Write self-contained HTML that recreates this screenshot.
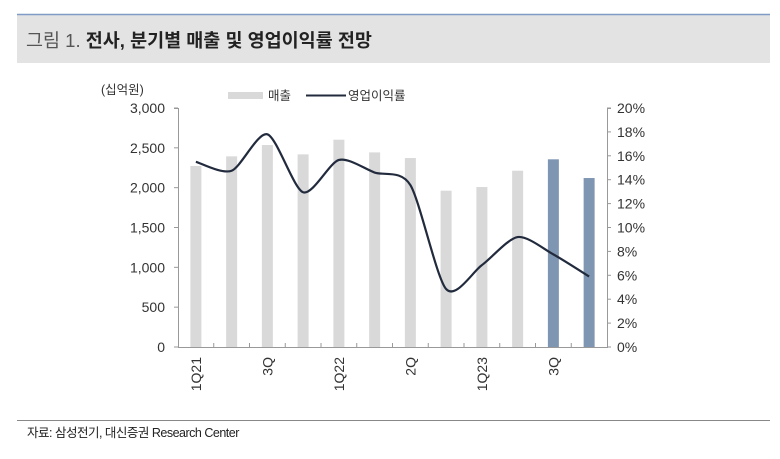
<!DOCTYPE html>
<html><head><meta charset="utf-8"><style>
body{margin:0;width:780px;height:454px;background:#fff;overflow:hidden;font-family:"Liberation Sans","Noto Sans CJK KR",sans-serif}
</style></head><body>
<svg width="780" height="454" xmlns="http://www.w3.org/2000/svg" font-family="Liberation Sans, Noto Sans CJK KR, sans-serif">
<rect x="17" y="14" width="753" height="49" fill="#e3e3e3"/>
<line x1="17" y1="14.5" x2="770" y2="14.5" stroke="#7e9cc5" stroke-width="1.5"/>
<text x="26" y="47" font-size="18.5" fill="#555">그림 1.  <tspan font-weight="bold" fill="#222">전사, 분기별 매출 및 영업이익률 전망</tspan></text>
<text x="101" y="94" font-size="12.5" fill="#333">(십억원)</text>
<rect x="228" y="92" width="35" height="7" fill="#d9d9d9"/>
<text x="268" y="100" font-size="12.5" fill="#333">매출</text>
<line x1="306" y1="95.5" x2="346" y2="95.5" stroke="#222b3d" stroke-width="2"/>
<text x="348" y="100" font-size="12.5" fill="#333">영업이익률</text>
<g id="plot"></g>
<line x1="17" y1="420.5" x2="770" y2="420.5" stroke="#888" stroke-width="1"/>
<text x="27" y="437" font-size="12.5" fill="#222" letter-spacing="-0.5">자료: 삼성전기, 대신증권 Research Center</text>
</svg>
<script>
const categories=["1Q21","2Q","3Q","4Q","1Q22","2Q","3Q","4Q","1Q23","2Q","3Q","4Q"];
const xLabels=["1Q21","","3Q","","1Q22","","2Q","","1Q23","","3Q",""];
const sales=[2272,2393,2535,2418,2602,2443,2372,1962,2008,2213,2356,2121];
const margin=[15.5,14.75,17.8,12.95,15.65,14.6,13.55,4.85,6.85,9.2,7.75,5.9];
const forecast=[false,false,false,false,false,false,false,false,false,false,true,true];
const leftTicks=[0,500,1000,1500,2000,2500,3000];
const rightTicks=[0,2,4,6,8,10,12,14,16,18,20];

const NS="http://www.w3.org/2000/svg";
const g=document.getElementById('plot');
const X0=178,X1=607,Y0=347,Y1=108;
const bw=(X1-X0)/categories.length;
const xc=i=>X0+bw*(i+0.5);
const yL=v=>Y0-(v/3000)*(Y0-Y1);
const yR=v=>Y0-(v/20)*(Y0-Y1);
function mk(t,a){const e=document.createElementNS(NS,t);for(const k in a)e.setAttribute(k,a[k]);g.appendChild(e);return e;}
const fmt=v=>v.toLocaleString('en-US');
sales.forEach((v,i)=>{
 const r=mk('rect',{x:xc(i)-5.5,y:yL(v),width:11,height:Y0-yL(v),fill:forecast[i]?'#7f96b2':'#d9d9d9'});
 
 
});
let a=mk('path',{d:`M${X0-4},${Y1}.5H${X0}.5V${Y0}.5H${X1}.5V${Y1}.5H${X1+4}`,fill:'none',stroke:'#999','stroke-width':1});


leftTicks.forEach(v=>{
 mk('line',{x1:X0-4,x2:X0,y1:yL(v),y2:yL(v),stroke:'#999'});
 const t=mk('text',{x:X0-13,y:yL(v)+5,'font-size':14,fill:'#333','text-anchor':'end'});t.textContent=fmt(v);
 
 
});
rightTicks.forEach(v=>{
 mk('line',{x1:X1,x2:X1+4,y1:yR(v),y2:yR(v),stroke:'#999'});
 const t=mk('text',{x:X1+10,y:yR(v)+5,'font-size':14,fill:'#333'});t.textContent=v+'%';
 
 
});
for(let i=1;i<categories.length;i++){const x=X0+bw*i;mk('line',{x1:x,x2:x,y1:Y0-4,y2:Y0,stroke:'#999'});}
xLabels.forEach((l,i)=>{
 if(!l)return;
 const t=mk('text',{transform:`translate(${xc(i)+5},357) rotate(-90)`,'font-size':14,fill:'#333','text-anchor':'end'});t.textContent=l;
 
 
});
const pts=margin.map((v,i)=>[xc(i),yR(v)]);
let d=`M${pts[0][0]},${pts[0][1]}`;
const k=7.5;
for(let i=0;i<pts.length-1;i++){
 const p0=pts[Math.max(i-1,0)],p1=pts[i],p2=pts[i+1],p3=pts[Math.min(i+2,pts.length-1)];
 const c1=[p1[0]+(p2[0]-p0[0])/k,p1[1]+(p2[1]-p0[1])/k],c2=[p2[0]-(p3[0]-p1[0])/k,p2[1]-(p3[1]-p1[1])/k];
 d+=` C${c1[0]},${c1[1]} ${c2[0]},${c2[1]} ${p2[0]},${p2[1]}`;
}
const ln=mk('path',{d,fill:'none',stroke:'#222b3d','stroke-width':2.2});


</script>
</body></html>
